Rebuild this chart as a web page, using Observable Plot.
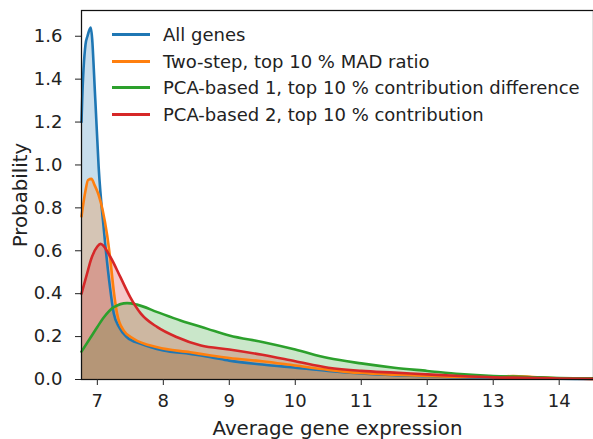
<!DOCTYPE html>
<html><head><meta charset="utf-8">
<script src="https://cdn.jsdelivr.net/npm/d3@7"></script>
<script src="https://cdn.jsdelivr.net/npm/@observablehq/plot@0.6"></script>
<style>
body{margin:0;background:#fff;font-family:"DejaVu Sans",sans-serif;}
#wrap{position:relative;width:593px;height:439px;}
#legend{position:absolute;left:112px;top:21px;font-size:18px;color:#222;}
#legend .row{height:26.7px;display:flex;align-items:center;white-space:nowrap;}
#legend .sw{width:38px;height:3px;margin-right:13px;flex:none;}
</style></head>
<body><div id="wrap"><div id="legend"></div></div>
<script>
const seriesNames = ["All genes","Two-step, top 10 % MAD ratio","PCA-based 1, top 10 % contribution difference","PCA-based 2, top 10 % contribution"];
const colors = ["#1f77b4","#ff7f0e","#2ca02c","#d62728"];

const allX = [6.76,6.77,6.82,6.85,6.90,6.97,7.02,7.10,7.18,7.25,7.33,7.45,7.66,8.0,8.41,8.72,9.0,9.5,10.0,10.5,11.0,11.5,12.0,12.5,13.0,13.5,14.0,14.52];
const allY = [1.20,1.30,1.56,1.60,1.64,1.30,0.99,0.694,0.46,0.307,0.244,0.197,0.166,0.135,0.119,0.104,0.088,0.07,0.055,0.04,0.028,0.02,0.015,0.01,0.008,0.006,0.004,0.002];

const twoX = [6.76,6.82,6.86,6.91,6.96,7.02,7.08,7.15,7.20,7.25,7.30,7.40,7.55,7.91,8.41,8.72,9.0,9.5,10.0,10.5,11.0,11.5,12.0,12.5,13.0,13.3,13.6,14.0,14.52];
const twoY = [0.76,0.88,0.93,0.935,0.905,0.86,0.79,0.67,0.55,0.41,0.307,0.228,0.19,0.15,0.127,0.112,0.10,0.085,0.065,0.045,0.03,0.022,0.016,0.012,0.012,0.016,0.012,0.006,0.003];

const pca1X = [6.76,6.9,7.0,7.1,7.25,7.45,7.6,7.91,8.26,8.67,9.0,9.5,10.0,10.5,11.0,11.5,12.0,12.5,13.0,13.5,14.0,14.52];
const pca1Y = [0.13,0.197,0.245,0.29,0.337,0.356,0.349,0.314,0.275,0.236,0.205,0.175,0.14,0.10,0.075,0.055,0.04,0.025,0.016,0.012,0.007,0.005];

const pca2X = [6.76,6.85,6.9,7.0,7.05,7.2,7.35,7.5,7.66,7.91,8.21,8.57,9.0,9.5,10.0,10.5,11.0,11.5,12.0,12.5,13.0,13.5,14.0,14.52];
const pca2Y = [0.40,0.50,0.555,0.62,0.632,0.57,0.477,0.383,0.307,0.244,0.197,0.158,0.14,0.115,0.085,0.055,0.04,0.032,0.024,0.016,0.01,0.008,0.005,0.003];

const xTicks = [7,8,9,10,11,12,13,14];
const yTicks = [0,0.2,0.4,0.6,0.8,1.0,1.2,1.4,1.6];

const sets = [[allX,allY],[twoX,twoY],[pca1X,pca1Y],[pca2X,pca2Y]];
const datas = sets.map(([xs,ys])=>xs.map((x,j)=>({x, y: ys[j]})));
const marks = [];
datas.forEach((d,i)=>marks.push(Plot.areaY(d,{x:"x",y:"y",fill:colors[i],fillOpacity:0.25,curve:"monotone-x"})));
datas.forEach((d,i)=>marks.push(Plot.lineY(d,{x:"x",y:"y",stroke:colors[i],strokeWidth:2.6,curve:"monotone-x"})));
marks.push(Plot.frame({stroke:"#111",strokeWidth:1.25}));
marks.push(Plot.axisX(xTicks,{tickSize:6,tickPadding:9,fontSize:18,label:"Average gene expression",labelAnchor:"center",labelArrow:"none",labelOffset:55}));
marks.push(Plot.axisY(yTicks,{tickSize:6,tickPadding:13,fontSize:18,tickFormat:d3.format(".1f"),label:"Probability",labelAnchor:"center",labelArrow:"none",labelOffset:69}));

const chart = Plot.plot({
  width:593, height:439,
  marginLeft:81, marginTop:10, marginBottom:60, marginRight:0,
  style:{fontFamily:"DejaVu Sans",fontSize:"18px",color:"#222",background:"#fff"},
  x:{domain:[6.76,14.52]},
  y:{domain:[0,1.72]},
  marks
});
chart.querySelectorAll("[aria-label='x-axis label'] text, [aria-label='y-axis label'] text").forEach(t=>t.setAttribute("font-size","19.8"));
document.getElementById("wrap").prepend(chart);
const lg = document.getElementById("legend");
seriesNames.forEach((n,i)=>{
  const r=document.createElement("div");r.className="row";
  r.innerHTML=`<div class="sw" style="background:${colors[i]}"></div><span>${n}</span>`;
  lg.appendChild(r);
});
</script></body></html>
